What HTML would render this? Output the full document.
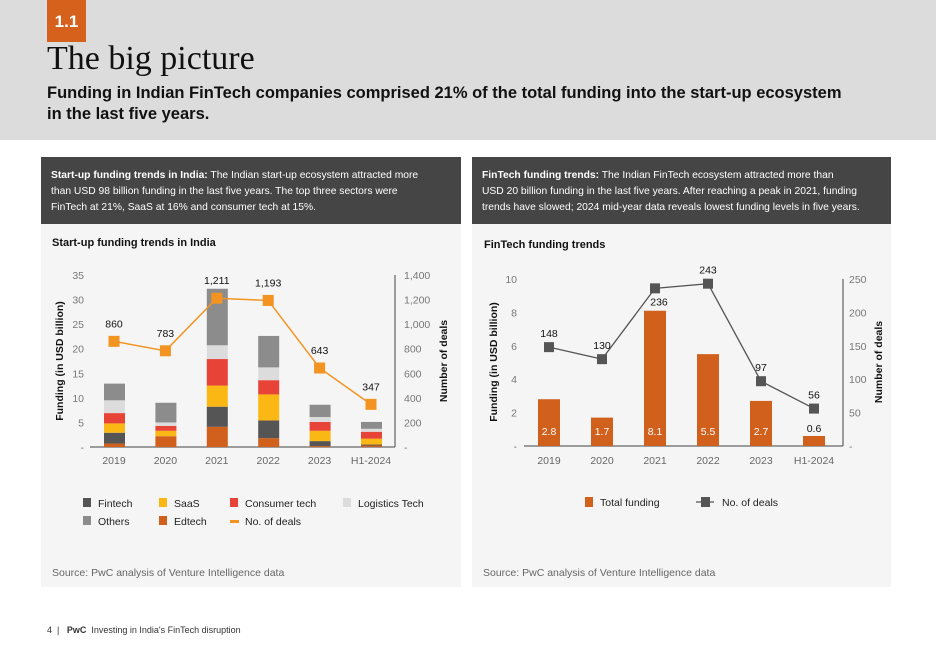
<!DOCTYPE html>
<html><head><meta charset="utf-8"><style>
body{margin:0;width:936px;height:662px;background:#fff;font-family:"Liberation Sans",Arial,sans-serif;overflow:hidden;position:relative}
.abs{position:absolute}
.hdr{left:0;top:0;width:936px;height:140px;background:#dcdcdc}
.badge{left:47px;top:0;width:39px;height:42px;background:#d5611c;color:#fff;font-weight:bold;font-size:17px;line-height:44px;text-align:center}
.title{left:47px;top:40px;font-family:"Liberation Serif",serif;font-size:34px;color:#111}
.sub{left:47px;top:83px;font-weight:bold;font-size:16.5px;line-height:21px;color:#111;white-space:nowrap}
.panel{background:#f5f5f5;top:224px;height:363px}
.dark{background:#454545;color:#fff;top:157px;height:67px;font-size:10.3px;line-height:16px;padding:11px 10px 0 10px;box-sizing:border-box;white-space:nowrap}
.ctitle{font-weight:bold;font-size:11px;color:#111}
.src{font-size:10.5px;color:#666}
svg text{font-family:"Liberation Sans",Arial,sans-serif}
</style></head><body>
<div class="abs hdr"></div>
<div class="abs badge">1.1</div>
<div class="abs title">The big picture</div>
<div class="abs sub">Funding in Indian FinTech companies comprised 21% of the total funding into the start-up ecosystem<br>in the last five years.</div>

<div class="abs dark" style="left:41px;width:420px"><b>Start-up funding trends in India:</b> The Indian start-up ecosystem attracted more<br>than USD 98 billion funding in the last five years. The top three sectors were<br>FinTech at 21%, SaaS at 16% and consumer tech at 15%.</div>
<div class="abs dark" style="left:472px;width:419px"><b>FinTech funding trends:</b> The Indian FinTech ecosystem attracted more than<br>USD 20 billion funding in the last five years. After reaching a peak in 2021, funding<br>trends have slowed; 2024 mid-year data reveals lowest funding levels in five years.</div>
<div class="abs panel" style="left:41px;width:420px"></div>
<div class="abs panel" style="left:472px;width:419px"></div>
<div class="abs ctitle" style="left:52px;top:237px">Start-up funding trends in India</div>
<div class="abs ctitle" style="left:484px;top:239px">FinTech funding trends</div>
<div class="abs src" style="left:52px;top:567px">Source: PwC analysis of Venture Intelligence data</div>
<div class="abs src" style="left:483px;top:567px">Source: PwC analysis of Venture Intelligence data</div>
<div class="abs" style="left:47px;top:625px;font-size:9px;color:#333">4 &nbsp;| &nbsp; <b>PwC</b> &nbsp;Investing in India's FinTech disruption</div>

<svg class="abs" style="left:0;top:0" width="936" height="662" id="svg"></svg>
<script>
const cats=["2019","2020","2021","2022","2023","H1-2024"];
const edtech=[0.7,2.2,4.1,1.8,0.2,0.3];
const fintech=[2.2,0,4.1,3.6,1.0,0.2];
const saas=[1.9,1.1,4.3,5.3,2.1,1.2];
const consumer=[2.1,1.0,5.4,2.9,1.8,1.4];
const logistics=[2.6,0.7,2.8,2.6,1.0,0.6];
const others=[3.4,4.0,11.5,6.4,2.5,1.4];
const deals=[860,783,1211,1193,643,347];
const leftTicks=[0,5,10,15,20,25,30,35];
const rightTicks=[0,200,400,600,800,1000,1200,1400];
const ftFunding=[2.8,1.7,8.1,5.5,2.7,0.6];
const ftDeals=[148,130,236,243,97,56];
const ft2Ticks=[0,2,4,6,8,10];
const ft2Right=[0,50,100,150,200,250];

const svg=document.getElementById('svg');
const NS='http://www.w3.org/2000/svg';
function mk(tag,a,txt){const e=document.createElementNS(NS,tag);for(const k in a)e.setAttribute(k,a[k]);if(txt!==undefined)e.textContent=txt;svg.appendChild(e);return e;}
const fmt=v=>v.toLocaleString('en-US');

const L={x0:90,x1:395,y0:447,y1:275};
const ly=v=>L.y0-v/35*(L.y0-L.y1);
const lyr=v=>L.y0-v/1400*(L.y0-L.y1);
const lx=i=>114+i*51.4;
let e;
leftTicks.forEach(t=>{e=mk('text',{x:84,y:ly(t)+4,'text-anchor':'end','font-size':10.5,fill:'#777'},t===0?'-':t);
});
rightTicks.forEach(t=>{e=mk('text',{x:404,y:lyr(t)+4,'font-size':10.5,fill:'#777'},t===0?'-':fmt(t));
});
e=mk('line',{x1:L.x0,y1:L.y0,x2:L.x1,y2:L.y0,stroke:'#444'});
e=mk('line',{x1:L.x1,y1:L.y0,x2:L.x1,y2:L.y1,stroke:'#444'});
const series=[[edtech,'#d0601c'],[fintech,'#555555'],[saas,'#fbb814'],[consumer,'#e84337'],[logistics,'#dcdcdc'],[others,'#8c8c8c']];
cats.forEach((c,i)=>{let acc=0;
 series.forEach(([arr,col])=>{const v=arr[i];if(v>0){e=mk('rect',{x:lx(i)-10,y:ly(acc+v),width:21,height:ly(acc)-ly(acc+v),fill:col});
 }acc+=v;});
 e=mk('text',{x:lx(i),y:464,'text-anchor':'middle','font-size':10.5,fill:'#666'},c);
 
});
e=mk('polyline',{points:deals.map((d,i)=>lx(i)+','+lyr(d)).join(' '),fill:'none',stroke:'#f39321','stroke-width':1.5});

deals.forEach((d,i)=>{e=mk('rect',{x:lx(i)-5.5,y:lyr(d)-5.5,width:11,height:11,fill:'#f39321'});
 
 e=mk('text',{x:lx(i),y:lyr(d)-14,'text-anchor':'middle','font-size':10.5,fill:'#111'},fmt(d));
 });
e=mk('text',{x:63,y:361,'text-anchor':'middle','font-size':10.5,'font-weight':'bold',fill:'#111',transform:'rotate(-90 63 361)'},'Funding (in USD billion)');

e=mk('text',{x:447,y:361,'text-anchor':'middle','font-size':10.5,'font-weight':'bold',fill:'#111',transform:'rotate(-90 447 361)'},'Number of deals');

const leg=[['Fintech','#555555',83,503,'sq'],['SaaS','#fbb814',159,503,'sq'],['Consumer tech','#e84337',230,503,'sq'],['Logistics Tech','#dcdcdc',343,503,'sq'],['Others','#8c8c8c',83,521,'sq'],['Edtech','#d0601c',159,521,'sq'],['No. of deals','#f39321',230,521,'ln']];
leg.forEach(([t,c,x,y,k])=>{
 if(k==='sq')e=mk('rect',{x:x,y:y-5,width:8,height:9,fill:c});else e=mk('rect',{x:x,y:y-1,width:9,height:3,fill:c});
 
 e=mk('text',{x:x+15,y:y+4,'font-size':10.5,fill:'#222'},t);
 });

const R={x0:524,x1:843,y0:446,y1:279};
const ry=v=>R.y0-v/10*(R.y0-R.y1);
const ryr=v=>R.y0-v/250*(R.y0-R.y1);
const rx=i=>549+i*53;
ft2Ticks.forEach(t=>{e=mk('text',{x:517,y:ry(t)+4,'text-anchor':'end','font-size':10.5,fill:'#777'},t===0?'-':t);
 });
ft2Right.forEach(t=>{e=mk('text',{x:849,y:ryr(t)+4,'font-size':10.5,fill:'#777'},t===0?'-':t);
 });
e=mk('line',{x1:R.x0,y1:R.y0,x2:R.x1,y2:R.y0,stroke:'#444'});
e=mk('line',{x1:R.x1,y1:R.y0,x2:R.x1,y2:R.y1,stroke:'#444'});
cats.forEach((c,i)=>{const v=ftFunding[i];
 e=mk('rect',{x:rx(i)-11,y:ry(v),width:22,height:R.y0-ry(v),fill:'#d0601c'});
 
 const inside=v>1;
 e=mk('text',{x:rx(i),y:inside?ry(0)-11:ry(v)-4,'text-anchor':'middle','font-size':10.5,fill:inside?'#fff':'#111'},v.toFixed(1));
 
 e=mk('text',{x:rx(i),y:464,'text-anchor':'middle','font-size':10.5,fill:'#666'},c);
 });
e=mk('polyline',{points:ftDeals.map((d,i)=>rx(i)+','+ryr(d)).join(' '),fill:'none',stroke:'#555','stroke-width':1.3});

ftDeals.forEach((d,i)=>{e=mk('rect',{x:rx(i)-5,y:ryr(d)-5,width:10,height:10,fill:'#555'});
 
 const below=(i===2);
 e=mk('text',{x:rx(i)+(below?4:0),y:below?ryr(d)+17:ryr(d)-10,'text-anchor':'middle','font-size':10.5,fill:'#111'},d);
 });
e=mk('text',{x:497,y:362,'text-anchor':'middle','font-size':10.5,'font-weight':'bold',fill:'#111',transform:'rotate(-90 497 362)'},'Funding (in USD billion)');

e=mk('text',{x:882,y:362,'text-anchor':'middle','font-size':10.5,'font-weight':'bold',fill:'#111',transform:'rotate(-90 882 362)'},'Number of deals');

e=mk('rect',{x:585,y:497,width:8,height:10,fill:'#d0601c'});
e=mk('text',{x:600,y:506,'font-size':10.5,fill:'#222'},'Total funding');
e=mk('line',{x1:696,y1:502,x2:714,y2:502,stroke:'#555','stroke-width':1.3});
e=mk('rect',{x:701,y:497,width:9,height:10,fill:'#555'});
e=mk('text',{x:722,y:506,'font-size':10.5,fill:'#222'},'No. of deals');
</script>
</body></html>
